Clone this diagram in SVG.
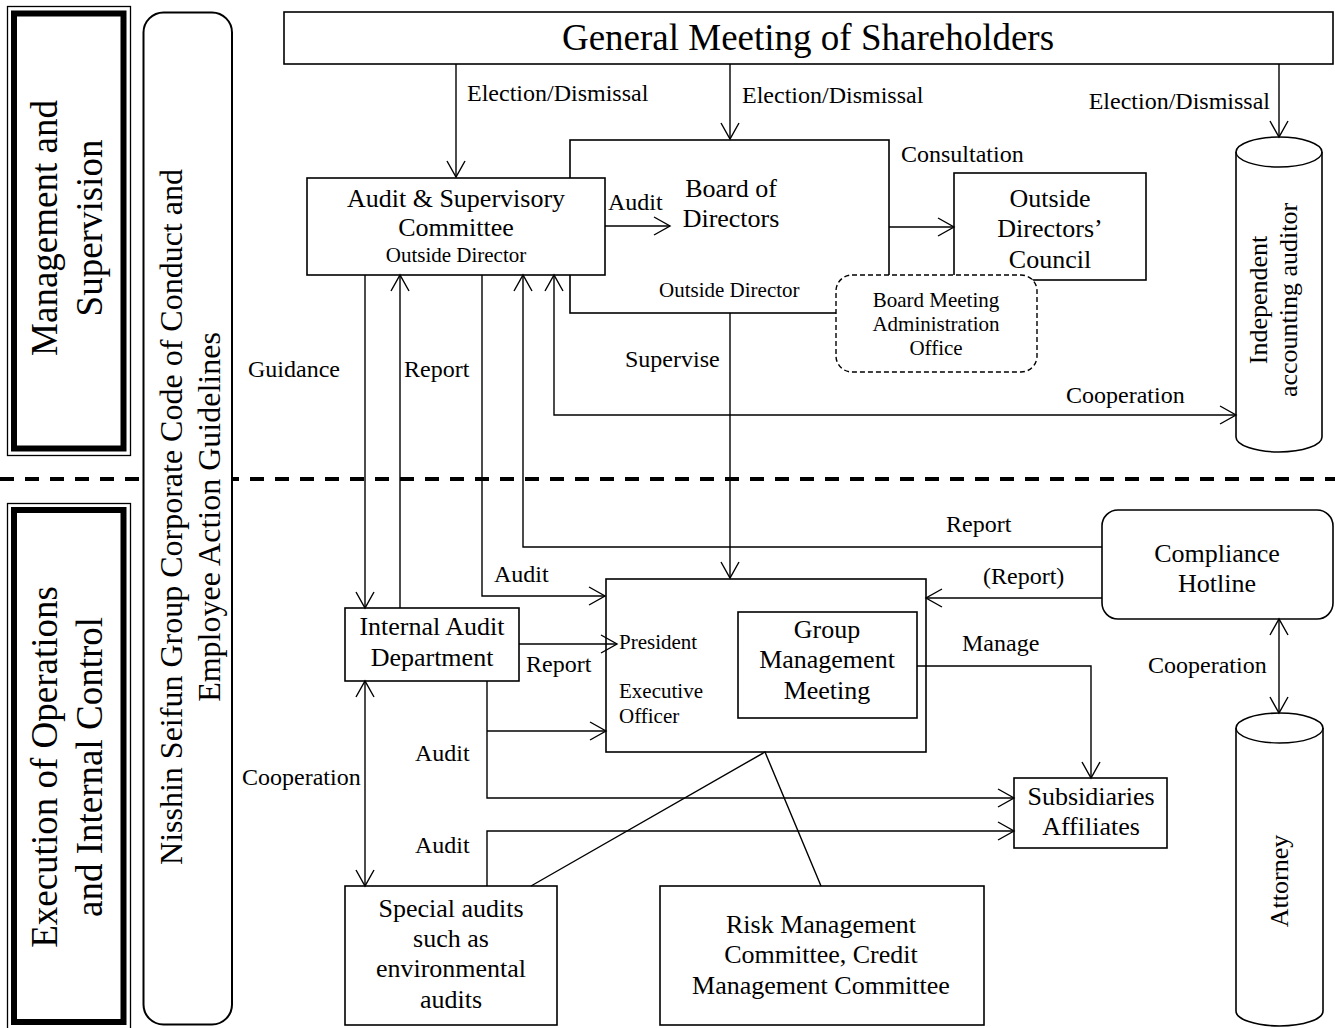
<svg xmlns="http://www.w3.org/2000/svg" width="1335" height="1028" viewBox="0 0 1335 1028">
<defs>
<style>
.b{fill:#fff;stroke:#000;stroke-width:1.6}
.c{fill:none;stroke:#000;stroke-width:1.4}
.t{font-family:"Liberation Serif","Times New Roman",serif;fill:#000}
.big{font-size:37px}
.code{font-size:32px}
.bx{font-size:26px}
.lb{font-size:24px}
.sm{font-size:21px}
.m{text-anchor:middle}
</style>
<marker id="ah" markerWidth="20" markerHeight="20" refX="16" refY="9" orient="auto-start-reverse" markerUnits="userSpaceOnUse" overflow="visible">
<path d="M0,0 L16,9 L0,18" fill="none" stroke="#000" stroke-width="1.4"/>
</marker>
</defs>
<rect width="1335" height="1028" fill="#fff"/>

<g id="separator">
<line x1="0" y1="479" x2="1335" y2="479" stroke="#000" stroke-width="4" stroke-dasharray="14,11"/>
</g>

<g id="management-supervision">
<rect x="7.5" y="6.5" width="123" height="449" fill="#fff" stroke="#000" stroke-width="1.3"/>
<rect x="14" y="13.5" width="109.5" height="435" fill="none" stroke="#000" stroke-width="6"/>
<text class="t big m" transform="translate(57,228) rotate(-90)">Management and</text>
<text class="t big m" transform="translate(102,228) rotate(-90)">Supervision</text>
</g>

<g id="execution-control">
<rect x="7.5" y="503.5" width="123" height="530" fill="#fff" stroke="#000" stroke-width="1.3"/>
<rect x="14" y="510" width="109.5" height="512" fill="none" stroke="#000" stroke-width="6"/>
<text class="t big m" transform="translate(57,767) rotate(-90)">Execution of Operations</text>
<text class="t big m" transform="translate(102,767) rotate(-90)">and Internal Control</text>
</g>

<g id="code-of-conduct">
<rect x="143.5" y="12.5" width="88.5" height="1012" rx="20" fill="#fff" stroke="#000" stroke-width="2"/>
<text class="t code m" transform="translate(182,517) rotate(-90)">Nisshin Seifun Group Corporate Code of Conduct and</text>
<text class="t code m" transform="translate(220,517) rotate(-90)">Employee Action Guidelines</text>
</g>

<g id="general-meeting">
<rect class="b" x="284" y="12" width="1049" height="52"/>
<text class="t big m" x="808" y="50">General Meeting of Shareholders</text>
</g>

<g id="board">
<rect class="b" x="570" y="140" width="319" height="173"/>
<text class="t bx m" x="731" y="197">Board of</text>
<text class="t bx m" x="731" y="227">Directors</text>
<text class="t sm" x="659" y="297">Outside Director</text>
</g>

<g id="outside-directors-council">
<rect class="b" x="954" y="173" width="192" height="107"/>
<text class="t bx m" x="1050" y="207">Outside</text>
<text class="t bx m" x="1050" y="237">Directors’</text>
<text class="t bx m" x="1050" y="268">Council</text>
</g>

<g id="board-admin-office">
<rect x="836" y="275" width="201" height="97" rx="16" fill="#fff" stroke="#000" stroke-width="1.4" stroke-dasharray="5,3"/>
<text class="t sm m" x="936" y="307">Board Meeting</text>
<text class="t sm m" x="936" y="331">Administration</text>
<text class="t sm m" x="936" y="355">Office</text>
</g>

<g id="audit-committee">
<rect class="b" x="307" y="178" width="298" height="97"/>
<text class="t bx m" x="456" y="207">Audit &amp; Supervisory</text>
<text class="t bx m" x="456" y="236">Committee</text>
<text class="t sm m" x="456" y="262">Outside Director</text>
</g>

<g id="accounting-auditor">
<path class="b" d="M1236,152 A43,15 0 0 1 1322,152 V437 A43,15 0 0 1 1236,437 Z"/>
<path class="c" d="M1236,152 A43,15 0 0 0 1322,152"/>
<text class="t bx m" transform="translate(1267,300) rotate(-90)">Independent</text>
<text class="t bx m" transform="translate(1297,300) rotate(-90)">accounting auditor</text>
</g>

<g id="compliance-hotline">
<rect class="b" x="1102" y="510" width="231" height="109" rx="16"/>
<text class="t bx m" x="1217" y="562">Compliance</text>
<text class="t bx m" x="1217" y="592">Hotline</text>
</g>

<g id="attorney">
<path class="b" d="M1236,728 A43.5,15 0 0 1 1323,728 V1011 A43.5,15 0 0 1 1236,1011 Z"/>
<path class="c" d="M1236,728 A43.5,15 0 0 0 1323,728"/>
<text class="t bx m" transform="translate(1288,881) rotate(-90)">Attorney</text>
</g>

<g id="internal-audit">
<rect class="b" x="345" y="608" width="174" height="73"/>
<text class="t bx m" x="432" y="635">Internal Audit</text>
<text class="t bx m" x="432" y="666">Department</text>
</g>

<g id="executive">
<rect class="b" x="606" y="579" width="320" height="173"/>
<text class="t sm" x="619" y="649">President</text>
<text class="t sm" x="619" y="698">Executive</text>
<text class="t sm" x="619" y="723">Officer</text>
</g>

<g id="group-management-meeting">
<rect class="b" x="738" y="612" width="179" height="106"/>
<text class="t bx m" x="827" y="638">Group</text>
<text class="t bx m" x="827" y="668">Management</text>
<text class="t bx m" x="827" y="699">Meeting</text>
</g>

<g id="subsidiaries">
<rect class="b" x="1014" y="778" width="153" height="70"/>
<text class="t bx m" x="1091" y="805">Subsidiaries</text>
<text class="t bx m" x="1091" y="835">Affiliates</text>
</g>

<g id="special-audits">
<rect class="b" x="345" y="886" width="212" height="139"/>
<text class="t bx m" x="451" y="917">Special audits</text>
<text class="t bx m" x="451" y="947">such as</text>
<text class="t bx m" x="451" y="977">environmental</text>
<text class="t bx m" x="451" y="1008">audits</text>
</g>

<g id="risk-committees">
<rect class="b" x="660" y="886" width="324" height="139"/>
<text class="t bx m" x="821" y="933">Risk Management</text>
<text class="t bx m" x="821" y="963">Committee, Credit</text>
<text class="t bx m" x="821" y="994">Management Committee</text>
</g>

<g id="connectors">
<path class="c" d="M456,64 V177" marker-end="url(#ah)"/>
<path class="c" d="M730,64 V139" marker-end="url(#ah)"/>
<path class="c" d="M1279,64 V137" marker-end="url(#ah)"/>
<path class="c" d="M605,226 H670" marker-end="url(#ah)"/>
<path class="c" d="M889,227 H954" marker-end="url(#ah)"/>
<path class="c" d="M365,275 V608" marker-end="url(#ah)"/>
<path class="c" d="M400,608 V275" marker-end="url(#ah)"/>
<path class="c" d="M482,275 V596 H605" marker-end="url(#ah)"/>
<path class="c" d="M1102,547 H523 V275" marker-end="url(#ah)"/>
<path class="c" d="M554,275 V415 H1236" marker-start="url(#ah)" marker-end="url(#ah)"/>
<path class="c" d="M730,313 V578" marker-end="url(#ah)"/>
<path class="c" d="M1102,598 H926" marker-end="url(#ah)"/>
<path class="c" d="M519,644 H617" marker-end="url(#ah)"/>
<path class="c" d="M487,681 V798 H1014" marker-end="url(#ah)"/>
<path class="c" d="M487,731 H606" marker-end="url(#ah)"/>
<path class="c" d="M487,886 V831 H1014" marker-end="url(#ah)"/>
<path class="c" d="M365,681 V886" marker-start="url(#ah)" marker-end="url(#ah)"/>
<path class="c" d="M917,666 H1091 V778" marker-end="url(#ah)"/>
<path class="c" d="M1279,619 V713" marker-start="url(#ah)" marker-end="url(#ah)"/>
<path class="c" d="M531,886 L765,752 L821,886"/>
</g>

<g id="labels">
<text class="t lb" x="467" y="101">Election/Dismissal</text>
<text class="t lb" x="742" y="103">Election/Dismissal</text>
<text class="t lb" x="1270" y="109" text-anchor="end">Election/Dismissal</text>
<text class="t lb" x="608" y="210">Audit</text>
<text class="t lb" x="901" y="162">Consultation</text>
<text class="t lb" x="248" y="377">Guidance</text>
<text class="t lb" x="404" y="377">Report</text>
<text class="t lb" x="625" y="367">Supervise</text>
<text class="t lb" x="1066" y="403">Cooperation</text>
<text class="t lb" x="946" y="532">Report</text>
<text class="t lb" x="983" y="584">(Report)</text>
<text class="t lb" x="494" y="582">Audit</text>
<text class="t lb" x="526" y="672">Report</text>
<text class="t lb" x="962" y="651">Manage</text>
<text class="t lb" x="1148" y="673">Cooperation</text>
<text class="t lb" x="415" y="761">Audit</text>
<text class="t lb" x="242" y="785">Cooperation</text>
<text class="t lb" x="415" y="853">Audit</text>
</g>
</svg>
